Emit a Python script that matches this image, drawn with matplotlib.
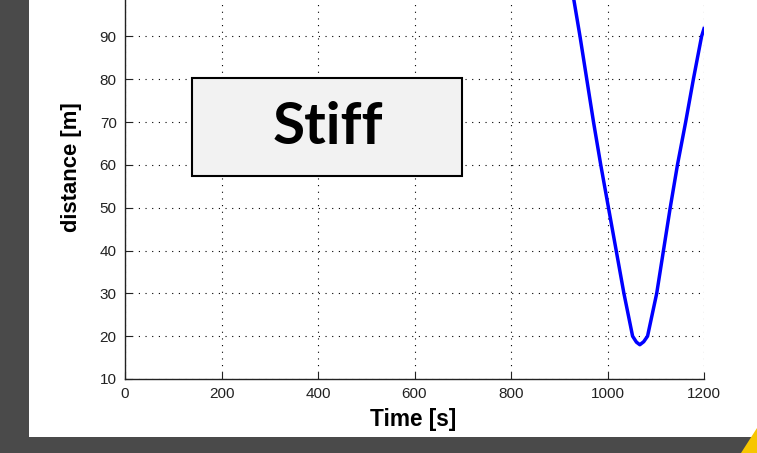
import matplotlib
matplotlib.use('Agg')
import matplotlib.pyplot as plt
from matplotlib.patches import Rectangle, Polygon

# --- datos de la pasada (tiempo / distancia) ---
tiempo = [925, 930, 943, 957, 971, 986, 1002, 1018, 1034, 1052, 1060, 1067,
          1075, 1083, 1102, 1116, 1130, 1145, 1162, 1178, 1195, 1200]
distancia = [102.5, 98.7, 90, 80, 70, 60, 50, 40, 30, 20, 18.6, 18.0,
             18.7, 20, 30, 40, 50, 60, 70, 80, 90, 91.8]

x_ticks = [0, 200, 400, 600, 800, 1000, 1200]
y_ticks = [10, 20, 30, 40, 50, 60, 70, 80, 90, 100]
etiqueta = 'Stiff'

W, H = 757, 453
fig = plt.figure(figsize=(W / 100, H / 100), dpi=100)
fig.patch.set_facecolor('#4a4a4a')

# panel blanco y esquina amarilla
fig.patches.append(Rectangle((29 / W, 1 - 437 / H), (W - 29) / W, 437 / H,
                             transform=fig.transFigure, facecolor='white',
                             edgecolor='none', zorder=-2))
fig.patches.append(Polygon([(741 / W, 0), (1, 25 / H), (1, 0)], closed=True,
                           transform=fig.transFigure, facecolor='#f7c600',
                           edgecolor='none', zorder=-2))

ax = fig.add_axes([125 / W, 1 - 379 / H, 579 / W, 385.5 / H])
ax.set_zorder(1)
ax.set_facecolor('white')
ax.plot(tiempo, distancia, color='#0000ff', linewidth=2.5, zorder=3)

ax.set_xlim(0, 1200)
ax.set_ylim(10, 100)
ax.set_xticks(x_ticks)
ax.set_yticks(y_ticks)
ax.grid(True, color='black', linestyle=(0, (1, 5)), linewidth=0.8)
for s in ['top', 'right']:
    ax.spines[s].set_visible(False)
for s in ['left', 'bottom']:
    ax.spines[s].set_linewidth(1.0)
    ax.spines[s].set_color('#222222')
ax.tick_params(direction='in', length=5, width=0.8, color='#222222',
               labelsize=11, labelcolor='#222222', pad=6)
for lbl in ax.get_xticklabels() + ax.get_yticklabels():
    lbl.set_family('Liberation Sans')

ax.set_xlabel('Time [s]', fontsize=16.3, family='Liberation Sans', fontweight='bold')
ax.set_ylabel('distance [m]', fontsize=15.8, family='Liberation Sans', fontweight='bold')
ax.xaxis.set_label_coords(0.497, -0.075)
ax.yaxis.set_label_coords(-0.074, 0.55)

# cuadro de texto
bx0, by0, bx1, by1 = 192, 78, 462, 176
fig.patches.append(Rectangle((bx0 / W, 1 - by1 / H), (bx1 - bx0) / W, (by1 - by0) / H,
                             transform=fig.transFigure, facecolor='#f2f2f2',
                             edgecolor='black', linewidth=1.5, zorder=5))
fig.text(328 / W, 1 - 128 / H, etiqueta, ha='center', va='center',
         fontsize=42, fontweight='bold', family='Lato', zorder=6)

fig.savefig('out.png', dpi=100, facecolor=fig.get_facecolor())
